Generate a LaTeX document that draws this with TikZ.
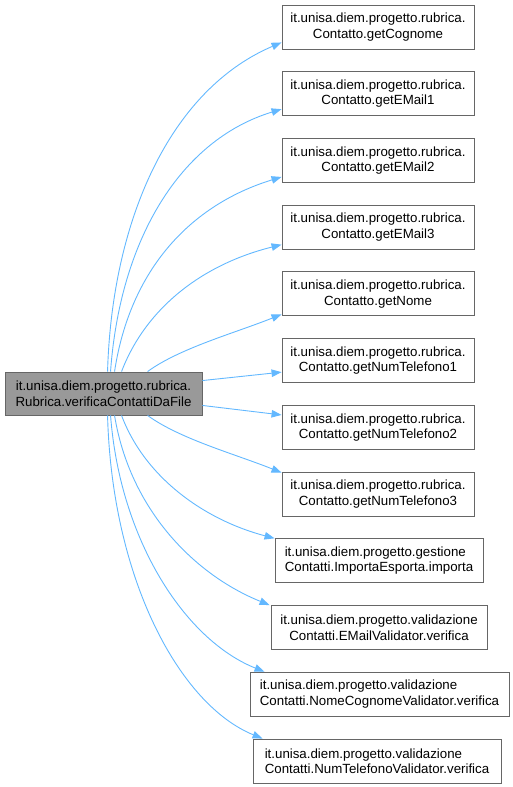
\documentclass[tikz,border=0pt]{standalone}
\usepackage{fontspec}
\setmainfont{Liberation Sans}
\usetikzlibrary{arrows.meta}
\definecolor{edgeblue}{HTML}{63B8FF}
\definecolor{boxborder}{HTML}{666666}
\definecolor{srcfill}{HTML}{999999}
\begin{document}
\begin{tikzpicture}[x=1pt,y=-1pt,
  box/.style={draw=boxborder,line width=0.9pt,fill=white,minimum height=44pt,inner sep=2pt,align=center,
    font=\fontsize{13.3}{15.5}\selectfont},
  srcbox/.style={box,fill=srcfill,minimum height=43pt},
  leftbox/.style={box,align=left},
  call/.style={draw=edgeblue,line width=0.9pt,-{Triangle[length=10pt,width=7.5pt]}}
]
\useasboundingbox (0,0) rectangle (513,787);
\node[srcbox,minimum width=197pt] (src) at (103.5,393.5) {it.unisa.diem.progetto.rubrica.\\Rubrica.verificaContattiDaFile};

\node[box,minimum width=192pt] (c1) at (378,27) {it.unisa.diem.progetto.rubrica.\\Contatto.getCognome};
\node[box,minimum width=192pt] (c2) at (378,93.7) {it.unisa.diem.progetto.rubrica.\\Contatto.getEMail1};
\node[box,minimum width=192pt] (c3) at (378,160.5) {it.unisa.diem.progetto.rubrica.\\Contatto.getEMail2};
\node[box,minimum width=192pt] (c4) at (378,227.2) {it.unisa.diem.progetto.rubrica.\\Contatto.getEMail3};
\node[box,minimum width=192pt] (c5) at (378,293.9) {it.unisa.diem.progetto.rubrica.\\Contatto.getNome};
\node[box,minimum width=192pt] (c6) at (378,360.7) {it.unisa.diem.progetto.rubrica.\\Contatto.getNumTelefono1};
\node[box,minimum width=192pt] (c7) at (378,427.4) {it.unisa.diem.progetto.rubrica.\\Contatto.getNumTelefono2};
\node[box,minimum width=192pt] (c8) at (378,494.1) {it.unisa.diem.progetto.rubrica.\\Contatto.getNumTelefono3};
\node[leftbox,minimum width=208pt] (c9) at (379,560.8) {it.unisa.diem.progetto.gestione\\Contatti.ImportaEsporta.importa};
\node[box,minimum width=216pt] (c10) at (379,627.5) {it.unisa.diem.progetto.validazione\\Contatti.EMailValidator.verifica};
\node[leftbox,minimum width=259pt] (c11) at (379.5,694.2) {it.unisa.diem.progetto.validazione\\Contatti.NomeCognomeValidator.verifica};
\node[leftbox,minimum width=248pt] (c12) at (377,761) {it.unisa.diem.progetto.validazione\\Contatti.NumTelefonoValidator.verifica};

\coordinate (s1) at ([xshift=103pt]src.north west);
\coordinate (s2) at ([xshift=106pt]src.north west);
\coordinate (s3) at ([xshift=110pt]src.north west);
\coordinate (s4) at ([xshift=117pt]src.north west);
\coordinate (s5) at ([xshift=143pt]src.north west);
\coordinate (s6) at ([yshift=-9pt]src.north east);
\coordinate (s7) at ([yshift=10pt]src.south east);
\coordinate (s8) at ([xshift=143pt]src.south west);
\coordinate (s9) at ([xshift=117pt]src.south west);
\coordinate (s10) at ([xshift=110pt]src.south west);
\coordinate (s11) at ([xshift=106pt]src.south west);
\coordinate (s12) at ([xshift=103pt]src.south west);

\draw[call] (s1) .. controls (112,220) and (170,90) .. ([yshift=7pt]c1.south west);
\draw[call] (s2) .. controls (120,240) and (180,140) .. ([yshift=7pt]c2.south west);
\draw[call] (s3) .. controls (130,270) and (190,205) .. ([yshift=6pt]c3.south west);
\draw[call] (s4) .. controls (145,310) and (200,265) .. ([yshift=5pt]c4.south west);
\draw[call] (s5) .. controls (180,348) and (235,333) .. ([yshift=2pt]c5.south west);
\draw[call] (s6) -- ([yshift=11pt]c6.south west);
\draw[call] (s7) -- ([yshift=-10pt]c7.north west);
\draw[call] (s8) .. controls (180,439) and (235,454) .. ([yshift=-1pt]c8.north west);
\draw[call] (s9) .. controls (145,478) and (205,520) .. (c9.north west);
\draw[call] (s10) .. controls (130,510) and (195,575) .. ([xshift=-1pt]c10.north west);
\draw[call] (s11) .. controls (120,540) and (185,640) .. ([xshift=15pt]c11.north west);
\draw[call] (s12) .. controls (112,580) and (180,705) .. ([xshift=10pt]c12.north west);
\end{tikzpicture}
\end{document}
